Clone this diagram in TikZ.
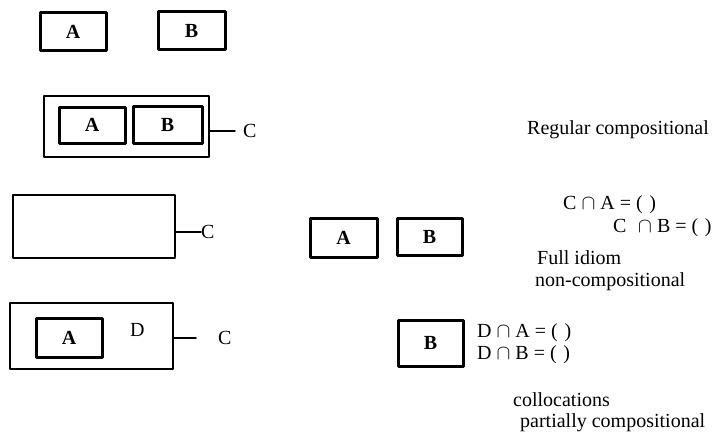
\documentclass[tikz,border=0pt]{standalone}
\usepackage{fontspec}
\setmainfont{Liberation Serif}
\usetikzlibrary{positioning}

\tikzset{
  lbox/.style={draw, line width=3pt, inner sep=0pt, minimum width=66pt, minimum height=38pt, font=\fontsize{20}{22}\selectfont\bfseries},
  frame/.style={draw, line width=1.8pt, inner sep=0pt},
  lab/.style={inner sep=0pt, anchor=west},
  note/.style={inner sep=0pt, anchor=west, font=\fontsize{20}{22}\selectfont}
}

\begin{document}
\begin{tikzpicture}[x=1pt,y=-1pt, font=\fontsize{20}{22}\selectfont, line cap=round, line join=round]
\useasboundingbox (0,0) rectangle (728,436);
% first row: A and B apart
\node[lbox] (a1) at (73,32) {A};
\node[lbox, minimum width=67pt] (b1) at (191.5,31) {B};
% second row: regular compositional
\node[frame, minimum width=165pt, minimum height=61pt] (f2) at (126.5,126.5) {};
\node[lbox, minimum height=36pt] (a2) at (92,125) {A};
\node[lbox, minimum width=69pt, minimum height=37pt] (b2) at (167.5,124.5) {B};
\node[lab] (c2) at (243,131) {C};
\draw[line width=1.5pt, shorten >=8pt] (f2.east |- c2) -- (c2.west);
\node[note] (reg) at (527,130) {Regular compositional};
% third row: full idiom
\node[frame, minimum width=162pt, minimum height=63pt] (f3) at (94,226.5) {};
\node[lab] (c3) at (201,232) {C};
\draw[line width=1.5pt] (f3.east |- c3) -- (c3.west);
\node[lbox, minimum width=67pt, minimum height=39pt] (a3) at (343.5,237.5) {A};
\node[lbox, minimum width=65pt, minimum height=37pt] (b3) at (429.5,236.5) {B};
\node[note] (ca) at (563,205) {C $\cap$ A = (\,\,)};
\node[note] (cb) at (613,228) {C\,\, $\cap$ B = (\,\,)};
\node[note] (full) at (537,258) {Full idiom};
\node[note] (nonc) at (535,282) {non-compositional};
% fourth row: collocations
\node[frame, minimum width=163pt, minimum height=66pt] (f4) at (91.5,336) {};
\node[lbox, minimum height=39pt] (a4) at (69,337.5) {A};
\node[lab] (d4) at (130,330) {D};
\node[lab] (c4) at (218,338) {C};
\draw[line width=1.5pt, shorten >=22pt] (f4.east |- c4) -- (c4.west);
\node[lbox, minimum width=65pt, minimum height=46pt] (b4) at (430.5,343) {B};
\node[note] (da) at (477,333) {D $\cap$ A = (\,\,)};
\node[note] (db) at (477,355) {D $\cap$ B = (\,\,)};
\node[note] (coll) at (513,400) {collocations};
\node[note] (part) at (520,423) {partially compositional};
\end{tikzpicture}
\end{document}
